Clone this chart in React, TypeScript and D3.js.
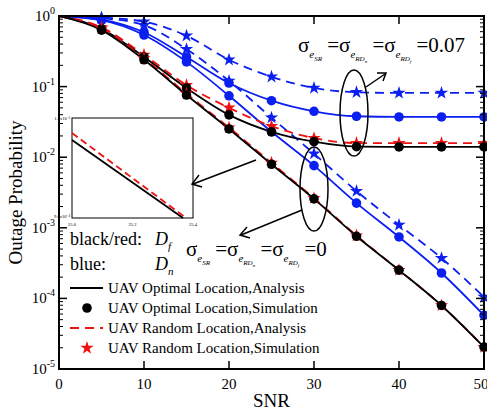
import * as d3 from 'd3';

const snr = [0, 5, 10, 15, 20, 25, 30, 35, 40, 45, 50];
// log10 outage values
const optDf0 = [0, -0.2, -0.62, -1.12, -1.6, -2.1, -2.59, -3.12, -3.6, -4.1, -4.69];
const rndDf0 = [0, -0.18, -0.6, -1.1, -1.58, -2.08, -2.58, -3.11, -3.6, -4.1, -4.69];
const optDf07 = [0, -0.18, -0.58, -1.02, -1.4, -1.64, -1.78, -1.85, -1.855, -1.855, -1.855];
const rndDf07 = [0, -0.16, -0.55, -0.98, -1.3, -1.56, -1.73, -1.8, -1.8, -1.8, -1.8];
const optDn07 = [0, -0.05, -0.23, -0.58, -0.95, -1.2, -1.35, -1.42, -1.43, -1.43, -1.43];
const rndDn07 = [0, -0.02, -0.08, -0.28, -0.62, -0.86, -1.02, -1.08, -1.09, -1.09, -1.09];
const optDn0 = [0, -0.06, -0.27, -0.65, -1.13, -1.64, -2.12, -2.65, -3.13, -3.64, -4.24];
const rndDn0 = [0, -0.03, -0.13, -0.47, -0.92, -1.44, -1.95, -2.48, -2.96, -3.43, -3.98];

const xTicks = [0, 10, 20, 30, 40, 50];
const yExps = [0, -1, -2, -3, -4, -5];
const legendLabels = [
  'UAV Optimal Location,Analysis',
  'UAV Optimal Location,Simulation',
  'UAV Random Location,Analysis',
  'UAV Random Location,Simulation',
];

// inset (zoom of x 25.0–25.4), fraction of inset height from top
const insetBlackX = [25.0, 25.367];
const insetBlackY = [0.22, 1.0];
const insetRedX = [25.0, 25.377];
const insetRedY = [0.15, 1.0];

const BLUE = '#0a1ff0';
const RED = '#ee1111';

const series = [
  { v: optDn07, color: BLUE, dash: false, mark: 'circle', mc: BLUE },
  { v: rndDn07, color: BLUE, dash: true, mark: 'star', mc: BLUE },
  { v: optDn0, color: BLUE, dash: false, mark: 'circle', mc: BLUE },
  { v: rndDn0, color: BLUE, dash: true, mark: 'star', mc: BLUE },
  { v: rndDf07, color: RED, dash: true, mark: 'star', mc: RED },
  { v: optDf07, color: 'black', dash: false, mark: 'circle', mc: 'black' },
  { v: rndDf0, color: RED, dash: true, mark: 'star', mc: RED },
  { v: optDf0, color: 'black', dash: false, mark: 'circle', mc: 'black' },
];

const L = 59, R = 484, T = 16, B = 369;
const x = d3.scaleLinear().domain([0, 50]).range([L, R]);
const y = d3.scaleLinear().domain([0, -5]).range([T, B]);
const star = d3.symbol(d3.symbolStar, 55)();

function Mark({ t, cx, cy, c }: { t: string; cx: number; cy: number; c: string }) {
  if (t === 'circle') return <circle cx={cx} cy={cy} r={4.8} fill={c} />;
  return <path d={star} transform={`translate(${cx},${cy})`} fill={c} />;
}

function Sigma({ x0, y0, val }: { x0: number; y0: number; val: string }) {
  return (
    <text x={x0} y={y0} fontSize={21}>σ<tspan fontSize={11} dy={6} fontStyle="italic">e</tspan><tspan fontSize={7} dy={3} fontStyle="italic">SR</tspan>
      <tspan dy={-9}> =σ</tspan><tspan fontSize={11} dy={6} fontStyle="italic">e</tspan><tspan fontSize={7} dy={3} fontStyle="italic">RD</tspan><tspan fontSize={5} dy={2} fontStyle="italic">n</tspan>
      <tspan dy={-11}> =σ</tspan><tspan fontSize={11} dy={6} fontStyle="italic">e</tspan><tspan fontSize={7} dy={3} fontStyle="italic">RD</tspan><tspan fontSize={5} dy={2} fontStyle="italic">f</tspan>
      <tspan dy={-11}> {val}</tspan></text>
  );
}

export default function App() {
  const line = d3.line<number>().x((_, i) => x(snr[i])).y(d => y(d)).curve(d3.curveMonotoneX);
  const minorTicks: number[] = [];
  for (let e = -5; e < 0; e++) for (let k = 2; k <= 9; k++) minorTicks.push(e + Math.log10(k));
  const ix = d3.scaleLinear().domain([25.0, 25.4]).range([72, 193]);
  const iy = d3.scaleLinear().domain([0, 1]).range([118, 218]);
  return (
    <svg width={487} height={414} style={{ position: 'absolute', left: 0, top: 0 }} fontFamily="'Liberation Serif', 'Times New Roman', serif">
      <rect width={487} height={414} fill="white" />
      {series.map((s, i) => (
        <path key={i} d={line(s.v) || ''} fill="none" stroke={s.color} strokeWidth={1.8} strokeDasharray={s.dash ? '9,6' : undefined} />
      ))}
      {series.map((s, i) => s.v.map((v, j) => j === 0 ? null : (
        <Mark key={`${i}-${j}`} t={s.mark} cx={x(snr[j])} cy={y(v)} c={s.mc} />
      )))}
      <rect x={L} y={T} width={R - L} height={B - T} fill="none" stroke="black" strokeWidth={2} />
      {xTicks.map(t => (
        <g key={t}>
          <line x1={x(t)} x2={x(t)} y1={B} y2={B - 8} stroke="black" strokeWidth={1.5} />
          <line x1={x(t)} x2={x(t)} y1={T} y2={T + 8} stroke="black" strokeWidth={1.5} />
          <text x={t === 50 ? x(t) - 3 : x(t)} y={B + 20} textAnchor="middle" fontSize={15}>{t}</text>
        </g>
      ))}
      {yExps.map(e => (
        <g key={e}>
          <line x1={L} x2={L + 8} y1={y(e)} y2={y(e)} stroke="black" strokeWidth={1.5} />
          <line x1={R} x2={R - 8} y1={y(e)} y2={y(e)} stroke="black" strokeWidth={1.5} />
          <text x={L - 4} y={y(e) + 5} textAnchor="end" fontSize={15}>10<tspan fontSize={10} dy={-7}>{e}</tspan></text>
        </g>
      ))}
      {minorTicks.map((m, i) => (
        <g key={i}>
          <line x1={L} x2={L + 4} y1={y(m)} y2={y(m)} stroke="black" />
          <line x1={R} x2={R - 4} y1={y(m)} y2={y(m)} stroke="black" />
        </g>
      ))}
      <text x={L + (R - L) / 2} y={407} textAnchor="middle" fontSize={19}>SNR</text>
      <text transform={`translate(22,${(T + B) / 2}) rotate(-90)`} textAnchor="middle" fontSize={19}>Outage Probability</text>

      {/* inset */}
      <rect x={72} y={118} width={121} height={100} fill="white" stroke="black" strokeWidth={1} />
      <path d={`M${ix(insetBlackX[0])},${iy(insetBlackY[0])}L${ix(insetBlackX[1])},${iy(insetBlackY[1])}`} stroke="black" strokeWidth={1.8} />
      <path d={`M${ix(insetRedX[0])},${iy(insetRedY[0])}L${ix(insetRedX[1])},${iy(insetRedY[1])}`} stroke={RED} strokeWidth={1.8} strokeDasharray="7,4" />
      {[25.0, 25.2, 25.4].map(t => (
        <text key={t} x={ix(t)} y={226} textAnchor="middle" fontSize={4.5}>{t.toFixed(1)}</text>
      ))}
      <text x={70} y={120} textAnchor="end" fontSize={4.5}>1.0x10⁻³</text>
      <text x={70} y={218} textAnchor="end" fontSize={4.5}>9.0x10⁻⁴</text>

      {/* annotations */}
      <ellipse cx={354} cy={113} rx={14} ry={43} fill="none" stroke="black" strokeWidth={1.5} />
      <line x1={366} y1={87} x2={385} y2={74} stroke="black" strokeWidth={1.5} />
      <path d="M377,73 L386,73 L383,81" fill="none" stroke="black" strokeWidth={1.5} />
      <Sigma x0={298} y0={52} val="=0.07" />

      <ellipse cx={314} cy={189} rx={14} ry={42} fill="none" stroke="black" strokeWidth={1.5} />
      <line x1={302} y1={210} x2={241} y2={235} stroke="black" strokeWidth={1.5} />
      <path d="M247,227 L240,235 L250,238" fill="none" stroke="black" strokeWidth={1.5} />
      <line x1={256} y1={160} x2={193} y2={184} stroke="black" strokeWidth={1.5} />
      <path d="M199,175 L192,184 L202,187" fill="none" stroke="black" strokeWidth={1.5} />
      <Sigma x0={186} y0={256} val="=0" />

      {/* legend */}
      <text x={70} y={245} fontSize={18}>black/red:</text>
      <text x={155} y={245} fontSize={18} fontStyle="italic">D<tspan fontSize={11} dy={5}>f</tspan></text>
      <text x={70} y={270} fontSize={18}>blue:</text>
      <text x={155} y={270} fontSize={18} fontStyle="italic">D<tspan fontSize={11} dy={5}>n</tspan></text>
      {legendLabels.map((lab, i) => {
        const ly = 288 + i * 20;
        return (
          <g key={i}>
            {i === 0 && <line x1={70} x2={103} y1={ly} y2={ly} stroke="black" strokeWidth={1.8} />}
            {i === 1 && <circle cx={87} cy={ly} r={4.8} fill="black" />}
            {i === 2 && <line x1={70} x2={103} y1={ly} y2={ly} stroke={RED} strokeWidth={1.8} strokeDasharray="9,6" />}
            {i === 3 && <path d={star} transform={`translate(87,${ly})`} fill={RED} />}
            <text x={108} y={ly + 5} fontSize={15}>{lab}</text>
          </g>
        );
      })}
    </svg>
  );
}
